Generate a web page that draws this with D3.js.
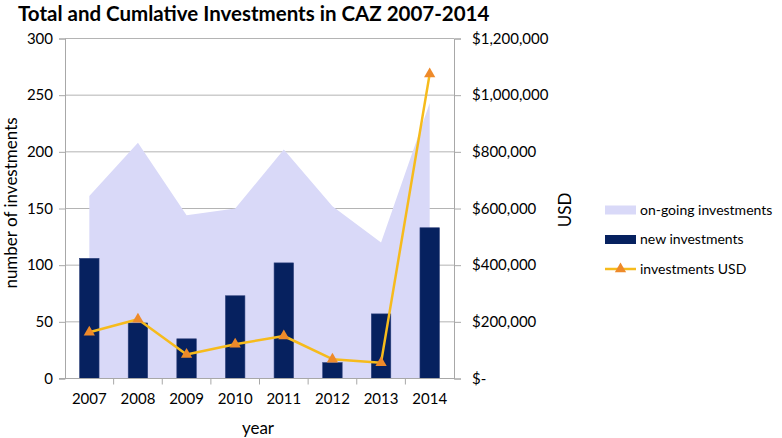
<!DOCTYPE html>
<html>
<head>
<meta charset="utf-8">
<script src="https://cdn.jsdelivr.net/npm/d3@7"></script>
<style>
  html, body { margin: 0; padding: 0; background: #fff; }
  svg { display: block; font-family: Lato, "Open Sans", sans-serif; }
</style>
</head>
<body>
<svg id="chart" width="782" height="438"></svg>
<script>
const years = ["2007", "2008", "2009", "2010", "2011", "2012", "2013", "2014"];
const ongoingInvestments = [161, 208, 144, 150, 202, 152, 120, 243];
const newInvestments = [106, 49, 35, 73, 102, 14, 57, 133];
const investmentsUSD = [163000, 209000, 85000, 121000, 150000, 68000, 56000, 1075000];
const leftTicks = [0, 50, 100, 150, 200, 250, 300];
const rightTicks = [0, 200000, 400000, 600000, 800000, 1000000, 1200000];
const legendLabels = ["on-going investments", "new investments", "investments USD"];

const svg = d3.select("#chart");
const m = { left: 65, right: 454, top: 38.5, bottom: 378.5 };

const x = d3.scaleBand().domain(years).range([m.left, m.right]).padding(0);
const yL = d3.scaleLinear().domain([0, 300]).range([m.bottom, m.top]);
const yR = d3.scaleLinear().domain([0, 1200000]).range([m.bottom, m.top]);
const cx = d => x(d) + x.bandwidth() / 2;

const gridColor = "#b4b4b4";
const axisColor = "#a8a8a8";

// Title
svg.append("text").attr("x", 18).attr("y", 21)
  .attr("font-size", 20.5).attr("font-weight", "bold").attr("fill", "#000")
  .text("Total and Cumlative Investments in CAZ 2007-2014");

// Gridlines
svg.append("g").selectAll("line").data(leftTicks.filter(t => t > 0)).join("line")
  .attr("x1", m.left).attr("x2", m.right)
  .attr("y1", d => yL(d)).attr("y2", d => yL(d))
  .attr("stroke", gridColor).attr("stroke-width", 1);

// Area
const area = d3.area().x((d, i) => cx(years[i])).y0(yL(0)).y1(d => yL(d));
svg.append("path").datum(ongoingInvestments).attr("d", area).attr("fill", "#d9d9f8");

// Bars
const bw = x.bandwidth() * 0.4;
svg.append("g").selectAll("rect").data(newInvestments).join("rect")
  .attr("x", (d, i) => cx(years[i]) - bw / 2)
  .attr("width", bw)
  .attr("y", d => yL(d))
  .attr("height", d => yL(0) - yL(d))
  .attr("fill", "#06215f")
  .attr("stroke", "#2b3f7a").attr("stroke-width", 0.6);

// Left axis
const leftAxis = d3.axisLeft(yL).tickValues(leftTicks).tickSize(6).tickPadding(6);
const gL = svg.append("g").attr("transform", `translate(${m.left},0)`).call(leftAxis);
gL.select(".domain").attr("stroke", axisColor);
gL.selectAll(".tick line").attr("stroke", axisColor);
gL.selectAll(".tick text").attr("font-size", 15).attr("fill", "#000")
  .attr("font-family", "Lato, sans-serif");

// Right axis
const fmtUSD = d => d === 0 ? "$-" : "$" + d3.format(",")(d);
const rightAxis = d3.axisRight(yR).tickValues(rightTicks).tickSize(7).tickPadding(11).tickFormat(fmtUSD);
const gR = svg.append("g").attr("transform", `translate(${m.right},0)`).call(rightAxis);
gR.select(".domain").attr("stroke", axisColor);
gR.selectAll(".tick line").attr("stroke", axisColor);
gR.selectAll(".tick text").attr("font-size", 15).attr("fill", "#000")
  .attr("font-family", "Lato, sans-serif");

// Bottom axis
const bottomAxis = d3.axisBottom(x).tickSize(0).tickPadding(15);
const gB = svg.append("g").attr("transform", `translate(0,${m.bottom})`).call(bottomAxis);
gB.select(".domain").attr("stroke", axisColor).attr("d", `M${m.left - 6},0H${m.right}`);
gB.selectAll(".tick text").attr("font-size", 15).attr("fill", "#000")
  .attr("font-family", "Lato, sans-serif");
// category boundary ticks
svg.append("g").selectAll("line").data(years.slice(1)).join("line")
  .attr("x1", d => x(d)).attr("x2", d => x(d))
  .attr("y1", m.bottom).attr("y2", m.bottom + 6)
  .attr("stroke", axisColor);

// USD line
const line = d3.line().x((d, i) => cx(years[i])).y(d => yR(d));
svg.append("path").datum(investmentsUSD).attr("d", line)
  .attr("fill", "none").attr("stroke", "#f6bb1c").attr("stroke-width", 2.5)
  .attr("stroke-linejoin", "round");
const tri = d3.symbol().type(d3.symbolTriangle).size(55);
svg.append("g").selectAll("path").data(investmentsUSD).join("path")
  .attr("d", tri)
  .attr("transform", (d, i) => `translate(${cx(years[i])},${yR(d)})`)
  .attr("fill", "#ee8a2a");

// Axis titles
svg.append("text").attr("transform", `translate(17,203) rotate(-90)`)
  .attr("text-anchor", "middle").attr("font-size", 17).attr("fill", "#000")
  .text("number of investments");
svg.append("text").attr("transform", `translate(571,210) rotate(-90)`)
  .attr("text-anchor", "middle").attr("font-size", 17).attr("fill", "#000")
  .text("USD");
svg.append("text").attr("x", 258).attr("y", 434)
  .attr("text-anchor", "middle").attr("font-size", 17).attr("fill", "#000")
  .text("year");

// Legend
const lg = svg.append("g");
const ly = [210, 239.5, 269];
lg.append("rect").attr("x", 605).attr("y", ly[0] - 4.5).attr("width", 31).attr("height", 9).attr("fill", "#d9d9f8");
lg.append("rect").attr("x", 605).attr("y", ly[1] - 4.5).attr("width", 31).attr("height", 9).attr("fill", "#06215f");
lg.append("line").attr("x1", 605).attr("x2", 636).attr("y1", ly[2]).attr("y2", ly[2])
  .attr("stroke", "#f6bb1c").attr("stroke-width", 2.5);
lg.append("path").attr("d", tri).attr("transform", `translate(620.5,${ly[2]})`).attr("fill", "#ee8a2a");
lg.selectAll("text").data(legendLabels).join("text")
  .attr("x", 640).attr("y", (d, i) => ly[i]).attr("dy", "0.35em")
  .attr("font-size", 14).attr("fill", "#000").text(d => d);
</script>
</body>
</html>
